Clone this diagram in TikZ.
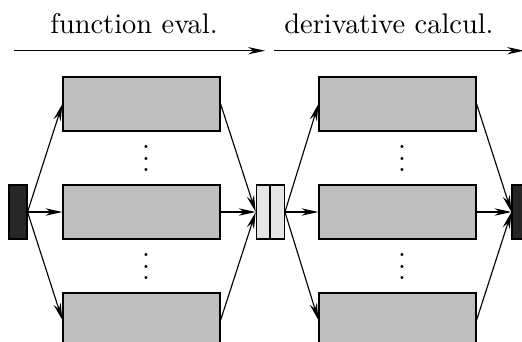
\documentclass[tikz,border=0pt]{standalone}
\usepackage{amssymb}
\usepackage{amsmath}
\usetikzlibrary{arrows.meta,positioning}

\begin{document}
\begin{tikzpicture}[x=0.352pt,y=-0.352pt,
            stage/.style={draw,fill=black!25,minimum width=55.3pt,minimum height=19pt,inner sep=0pt},
            term/.style={draw,fill=black!85,minimum width=6.3pt,minimum height=19pt,inner sep=0pt},
            half/.style={draw,fill=black!10,minimum width=4.75pt,minimum height=19pt,inner sep=0pt},
            flow/.style={-{Stealth[length=6pt,width=2.6pt]}}
        ]
            \useasboundingbox (0,0) rectangle (522,341);
            % phases
            \coordinate (fa) at (14,50.7);
            \coordinate (fb) at (265,50.7);
            \coordinate (da) at (274,50.7);
            \coordinate (db) at (524,50.7);
            \draw[flow] (fa) -- (fb);
            \draw[flow] (da) -- (db);
            \node[anchor=base] (feval) at (134,33) {function eval.};
            \node[anchor=base] (dcalc) at (389,33) {derivative calcul.};
            % blocks
            \node[term] (in) at (18,212) {};
            \node[stage] (f1) at (141.5,104) {};
            \node[stage] (f2) at (141.5,212) {};
            \node[stage] (f3) at (141.5,320) {};
            \node[half] (ml) at (263,212) {};
            \node[half,right=0pt of ml] (mr) {};
            \node[stage] (d1) at (397.5,104) {};
            \node[stage] (d2) at (397.5,212) {};
            \node[stage] (d3) at (397.5,320) {};
            \node[term] (out) at (521,212) {};
            \node[inner sep=0pt] (fv1) at (146,150) {$\vdots$};
            \node[inner sep=0pt] (fv2) at (146,258) {$\vdots$};
            \node[inner sep=0pt] (dv1) at (402,150) {$\vdots$};
            \node[inner sep=0pt] (dv2) at (402,258) {$\vdots$};
            % arrows
            \draw[flow] (in.east) -- (f1.west);
            \draw[flow] (in.east) -- (f2.west);
            \draw[flow] (in.east) -- (f3.west);
            \draw[flow] (f1.east) -- (ml.west);
            \draw[flow] (f2.east) -- (ml.west);
            \draw[flow] (f3.east) -- (ml.west);
            \draw[flow] (mr.east) -- (d1.west);
            \draw[flow] (mr.east) -- (d2.west);
            \draw[flow] (mr.east) -- (d3.west);
            \draw[flow] (d1.east) -- (out.west);
            \draw[flow] (d2.east) -- (out.west);
            \draw[flow] (d3.east) -- (out.west);
        \end{tikzpicture}
\end{document}
